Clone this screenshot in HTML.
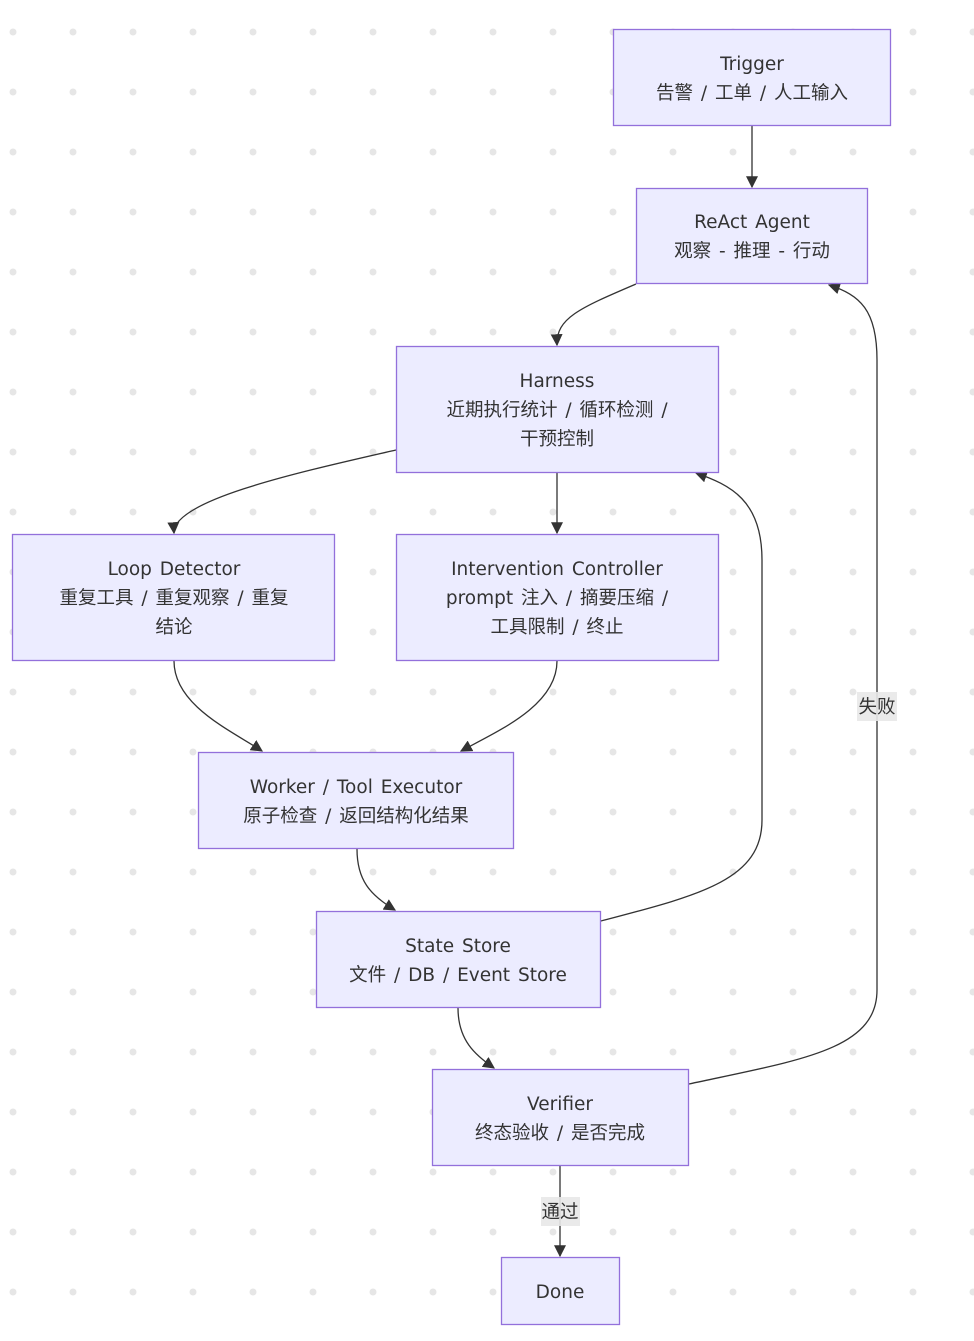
<!DOCTYPE html>
<html><head><meta charset="utf-8"><style>
html,body{margin:0;padding:0;background:#fff}
svg text{font-family:"DejaVu Sans","Noto Sans CJK SC",sans-serif;font-size:18.5px;fill:#333;text-anchor:middle;word-spacing:2px}
</style></head><body>
<svg width="974" height="1336" viewBox="0 0 974 1336" xmlns="http://www.w3.org/2000/svg">
<defs>
<pattern id="dots" x="0" y="0" width="60" height="60" patternUnits="userSpaceOnUse">
<circle cx="13" cy="32" r="3.5" fill="#e6e6e6"/>
</pattern>
<marker id="ah" viewBox="0 0 10 10" refX="9" refY="5" markerWidth="12" markerHeight="12" markerUnits="userSpaceOnUse" orient="auto">
<path d="M0,0 L10,5 L0,10 z" fill="#333"/>
</marker>
</defs>
<rect width="974" height="1336" fill="url(#dots)"/>
<g fill="none" stroke="#333" stroke-width="1.3" marker-end="url(#ah)">
<path d="M752,126 L752,187"/>
<path d="M636,284 C580,308 556,318 557,345"/>
<path d="M396,450 C300,472 172,500 174,533"/>
<path d="M557,473 L557,533"/>
<path d="M174,661 C174,705 230,730 262,751"/>
<path d="M557,661 C557,705 500,730 461,751"/>
<path d="M357,849 C357,880 370,895 395,910"/>
<path d="M601,921 C700,895 762,880 762,820 L762,560 C762,500 730,485 696,473"/>
<path d="M458,1008 C458,1040 475,1055 494,1068"/>
<path d="M689,1084 C800,1060 877,1050 877,990 L877,360 C877,310 860,295 829,285"/>
<path d="M560,1166 L560,1256"/>
</g>
<g fill="#ECECFF" stroke="#9370DB" stroke-width="1.3">
<rect x="613.5" y="29.5" width="277" height="96"/>
<rect x="636.5" y="188.5" width="231" height="95"/>
<rect x="396.5" y="346.5" width="322" height="126"/>
<rect x="12.5" y="534.5" width="322" height="126"/>
<rect x="396.5" y="534.5" width="322" height="126"/>
<rect x="198.5" y="752.5" width="315" height="96"/>
<rect x="316.5" y="911.5" width="284" height="96"/>
<rect x="432.5" y="1069.5" width="256" height="96"/>
<rect x="501.5" y="1257.5" width="118" height="67"/>
</g>
<rect x="857" y="692" width="40" height="29" fill="#e8e8e8" opacity="0.9"/>
<rect x="541" y="1197" width="39" height="29" fill="#e8e8e8" opacity="0.9"/>
<text x="877" y="713">失败</text>
<text x="560" y="1218">通过</text>
<text x="752" y="70">Trigger</text>
<text x="752" y="99">告警 / 工单 / 人工输入</text>
<text x="752" y="228">ReAct Agent</text>
<text x="752" y="257">观察 - 推理 - 行动</text>
<text x="557" y="387">Harness</text>
<text x="557" y="416">近期执行统计 / 循环检测 /</text>
<text x="557" y="445">干预控制</text>
<text x="174" y="575">Loop Detector</text>
<text x="174" y="604">重复工具 / 重复观察 / 重复</text>
<text x="174" y="633">结论</text>
<text x="557" y="575">Intervention Controller</text>
<text x="557" y="604">prompt 注入 / 摘要压缩 /</text>
<text x="557" y="633">工具限制 / 终止</text>
<text x="356" y="793">Worker / Tool Executor</text>
<text x="356" y="822">原子检查 / 返回结构化结果</text>
<text x="458" y="952">State Store</text>
<text x="458" y="981">文件 / DB / Event Store</text>
<text x="560" y="1110">Verifier</text>
<text x="560" y="1139">终态验收 / 是否完成</text>
<text x="560" y="1298">Done</text>
</svg>
</body></html>
